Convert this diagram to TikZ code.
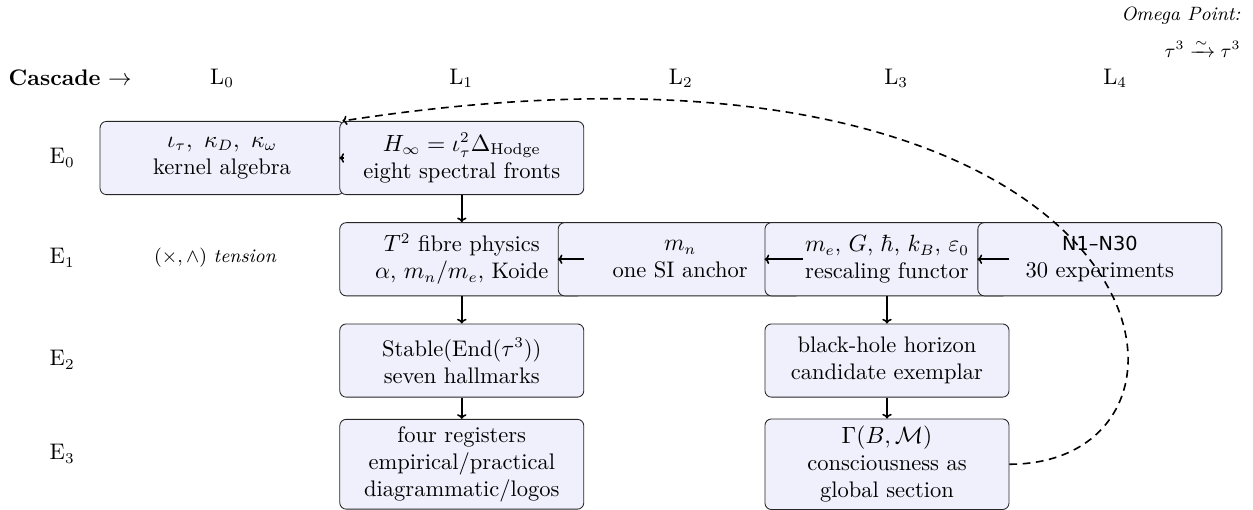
\documentclass[tikz,border=0pt]{standalone}
\usepackage{amsmath}
\usepackage{fontspec}
\usetikzlibrary{arrows.meta,positioning}
\newfontfamily\labfont[Ligatures=TeX]{DejaVu Sans}
\definecolor{boxfill}{RGB}{240,240,252}
\newcommand{\boxsize}{\fontsize{10.5pt}{12.6pt}\selectfont}

\begin{document}
\begin{tikzpicture}[
        stage/.style={rectangle, draw=black!85, rounded corners=3pt, minimum width=4cm, minimum height=1.2cm, align=center, fill=boxfill, font=\boxsize},
        lvl/.style={font=\boxsize},
        flow/.style={-{To[length=2.2pt,width=4.4pt]}, line width=0.75pt},
        loopback/.style={-{To[length=2.2pt,width=4.4pt]}, line width=0.75pt, dash pattern=on 3.6pt off 2.6pt},
    ]
        \useasboundingbox (0,0) rectangle (20.54,-8.36);

        % Column header (cascade levels)
        \node[lvl] (CASC) at (1.15, -1.28) {\textbf{Cascade} $\to$};
        \node[lvl] (L0) at (3.64, -1.28) {L$_0$};
        \node[lvl] (L1) at (7.56, -1.28) {L$_1$};
        \node[lvl] (L2) at (11.16, -1.28) {L$_2$};
        \node[lvl] (L3) at (14.69, -1.28) {L$_3$};
        \node[lvl] (L4) at (18.28, -1.28) {L$_4$};

        % Row labels
        \node[lvl] (E0) at (1.02, -2.59) {E$_0$};
        \node[lvl] (E1) at (1.02, -4.23) {E$_1$};
        \node[lvl] (E2) at (1.02, -5.90) {E$_2$};
        \node[lvl] (E3) at (1.02, -7.44) {E$_3$};
        \node[font=\small] (TENS) at (3.53, -4.23) {$(\times,\wedge)$ \textit{tension}};

        % Omega point (top right)
        \node[font=\small, anchor=east] (OMEGA) at (20.46, -0.26) {\textit{Omega Point:}};
        \node[font=\small, anchor=east] (OMAP) at (20.46, -0.80) {$\tau^3 \xrightarrow{\sim} \tau^3$};

        % E0 row
        \node[stage] (KERN) at (3.64, -2.59) {$\iota_\tau,\ \kappa_D,\ \kappa_\omega$\\kernel algebra};
        \node[stage] (HINF) at (7.57, -2.59) {$H_\infty = \iota_\tau^2\Delta_{\mathrm{Hodge}}$\\eight spectral fronts};

        % E1 row (right to left)
        \node[stage] (FIBRE) at (7.57, -4.25) {$T^2$ fibre physics\\$\alpha$, $m_n/m_e$, Koide};
        \node[stage] (ANCH) at (11.15, -4.25) {$m_n$\\one SI anchor};
        \node[stage] (RESC) at (14.54, -4.25) {$m_e$, $G$, $\hbar$, $k_B$, $\varepsilon_0$\\rescaling functor};
        \node[stage] (EXPT) at (18.03, -4.25) {{\labfont\small N1--N30}\\30 experiments};

        % E2 / E3 rows
        \node[stage] (STAB) at (7.57, -5.91) {Stable(End($\tau^3$))\\seven hallmarks};
        \node[stage] (BHOLE) at (14.54, -5.91) {black-hole horizon\\candidate exemplar};
        \node[stage] (REGS) at (7.57, -7.61) {four registers\\empirical/practical\\diagrammatic/logos};
        \node[stage] (GSEC) at (14.54, -7.61) {$\Gamma(B,\mathcal{M})$\\consciousness as\\global section};

        % arrows
        \draw[flow] (KERN.east) -- (HINF.west);
        \draw[flow] (HINF) -- (FIBRE);
        \draw[flow] (FIBRE.east) -- (ANCH.west);
        \draw[flow] (ANCH.east) -- (RESC.west);
        \draw[flow] (RESC.east) -- (EXPT.west);
        \draw[flow] (FIBRE) -- (STAB);
        \draw[flow] (STAB) -- (REGS);
        \draw[flow] (RESC) -- (BHOLE);
        \draw[flow] (BHOLE) -- (GSEC);

        % return to the kernel level
        \draw[loopback] (GSEC.east) .. controls +(3.93,0) and +(13.6,2.1) .. ([xshift=0.05cm]HINF.north west);
    \end{tikzpicture}
\end{document}
